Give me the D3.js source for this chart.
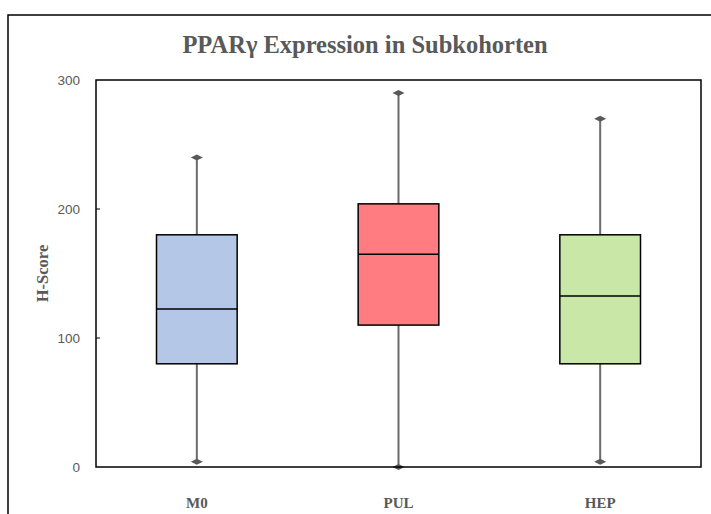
<!DOCTYPE html>
<html>
<head>
<meta charset="utf-8">
<script src="https://cdn.jsdelivr.net/npm/d3@7/dist/d3.min.js"></script>
<style>
  html, body { margin: 0; padding: 0; background: #fff; overflow: hidden; }
  svg { display: block; }
</style>
</head>
<body>
<svg id="chart" width="711" height="514"></svg>
<script>
// Box-plot summary per sub-cohort (H-Score)
const groups   = ["M0", "PUL", "HEP"];
const minVals  = [4, 0, 4];
const q1Vals   = [80, 110, 80];
const medians  = [122.5, 165, 132.5];
const q3Vals   = [180, 204, 180];
const maxVals  = [240, 290, 270];
const fills    = ["#b4c7e7", "#ff7c80", "#c9e7a7"];
const yTicks   = [0, 100, 200, 300];

const svg = d3.select("#chart");
const plot = { left: 96, top: 80, right: 701, bottom: 467 };

// outer chart frame (runs off the right and bottom edges)
svg.append("path")
  .attr("d", "M711,15 L8,15 L8,514")
  .attr("fill", "none").attr("stroke", "#000").attr("stroke-width", 1.5);

const x = d3.scaleBand().domain(groups).range([plot.left, plot.right]).paddingInner(0).paddingOuter(0);
const y = d3.scaleLinear().domain([0, 300]).range([plot.bottom, plot.top]);

// title
svg.append("text")
  .attr("x", 365).attr("y", 53)
  .attr("text-anchor", "middle")
  .attr("font-family", "'Liberation Serif', 'Times New Roman', serif")
  .attr("font-weight", "bold").attr("font-size", 24.5)
  .attr("fill", "#595959")
  .text("PPARγ Expression  in  Subkohorten");

// y-axis tick labels
const yAxis = d3.axisLeft(y).tickValues(yTicks).tickSize(0).tickPadding(16);
const gy = svg.append("g").attr("transform", `translate(${plot.left},0)`).call(yAxis);
gy.select(".domain").remove();
gy.selectAll("text")
  .attr("font-family", "'Liberation Sans', Arial, sans-serif")
  .attr("font-size", 13.5).attr("fill", "#595959");

// small inward ticks on the left edge
svg.append("g").selectAll("line")
  .data(yTicks.filter(t => t > 0 && t < 300))
  .join("line")
  .attr("x1", plot.left).attr("x2", plot.left + 4)
  .attr("y1", d => y(d)).attr("y2", d => y(d))
  .attr("stroke", "#000").attr("stroke-width", 1);

// y-axis title
svg.append("text")
  .attr("transform", `translate(48,${(plot.top + plot.bottom) / 2}) rotate(-90)`)
  .attr("text-anchor", "middle")
  .attr("font-family", "'Liberation Serif', 'Times New Roman', serif")
  .attr("font-weight", "bold").attr("font-size", 16.5)
  .attr("fill", "#595959")
  .text("H-Score");

// category labels
const xAxis = d3.axisBottom(x).tickSize(0).tickPadding(30);
const gx = svg.append("g").attr("transform", `translate(0,${plot.bottom})`).call(xAxis);
gx.select(".domain").remove();
gx.selectAll("text")
  .attr("font-family", "'Liberation Serif', 'Times New Roman', serif")
  .attr("font-weight", "bold").attr("font-size", 15)
  .attr("fill", "#595959");

const rows = groups.map((g, i) => ({
  g, min: minVals[i], q1: q1Vals[i], med: medians[i], q3: q3Vals[i], max: maxVals[i], fill: fills[i]
}));
const boxW = x.bandwidth() * 0.4;
const cx = d => x(d.g) + x.bandwidth() / 2;

const boxes = svg.append("g").selectAll("g").data(rows).join("g");

// whiskers
boxes.append("line")
  .attr("x1", cx).attr("x2", cx)
  .attr("y1", d => y(d.max)).attr("y2", d => y(d.q3))
  .attr("stroke", "#6b6b6b").attr("stroke-width", 2);
boxes.append("line")
  .attr("x1", cx).attr("x2", cx)
  .attr("y1", d => y(d.q1)).attr("y2", d => y(d.min))
  .attr("stroke", "#6b6b6b").attr("stroke-width", 2);

// diamond caps
const diamond = (px, py) => `M${px - 6},${py} L${px},${py - 3} L${px + 6},${py} L${px},${py + 3} Z`;
boxes.append("path").attr("d", d => diamond(cx(d), y(d.max))).attr("fill", "#595959");
boxes.append("path").attr("d", d => diamond(cx(d), y(d.min))).attr("fill", "#595959");

// boxes
boxes.append("rect")
  .attr("x", d => cx(d) - boxW / 2).attr("width", boxW)
  .attr("y", d => y(d.q3)).attr("height", d => y(d.q1) - y(d.q3))
  .attr("fill", d => d.fill).attr("stroke", "#000").attr("stroke-width", 1.5);

// medians
boxes.append("line")
  .attr("x1", d => cx(d) - boxW / 2).attr("x2", d => cx(d) + boxW / 2)
  .attr("y1", d => y(d.med)).attr("y2", d => y(d.med))
  .attr("stroke", "#000").attr("stroke-width", 1.5);

// plot area frame drawn last so it sits over the caps at 0
svg.append("rect")
  .attr("x", plot.left).attr("y", plot.top)
  .attr("width", plot.right - plot.left).attr("height", plot.bottom - plot.top)
  .attr("fill", "none").attr("stroke", "#000").attr("stroke-width", 1.5);
</script>
</body>
</html>
